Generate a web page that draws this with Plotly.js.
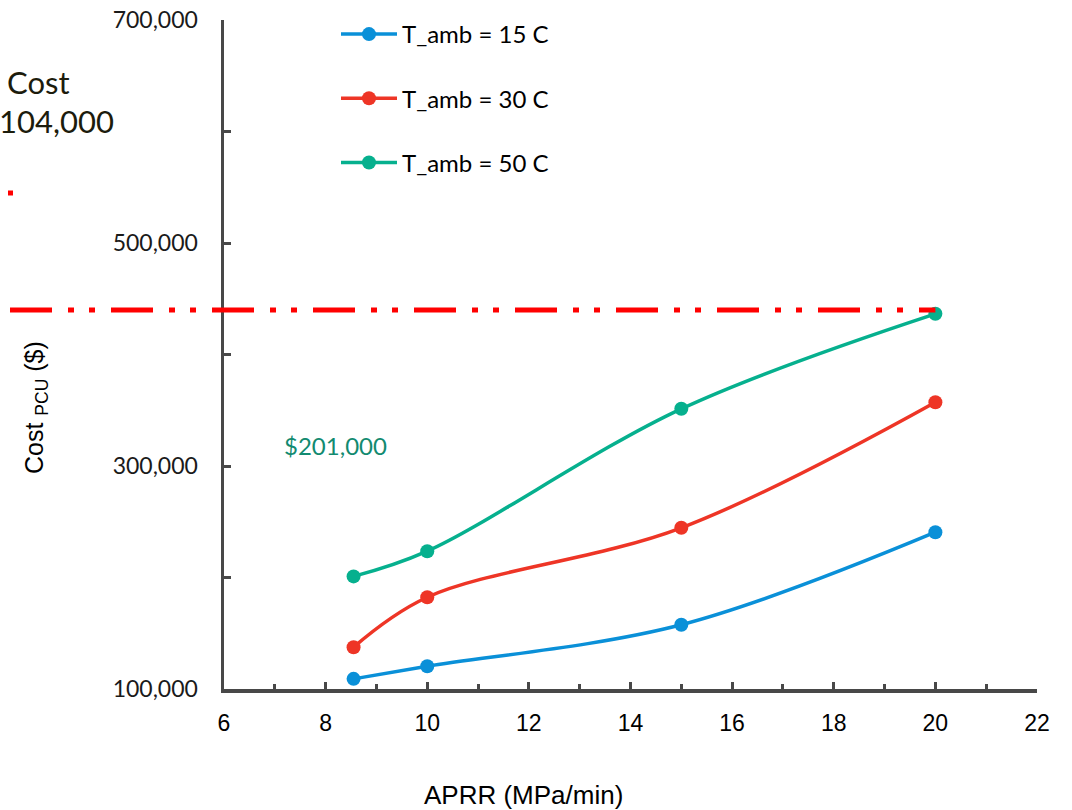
<!DOCTYPE html>
<html>
<head>
<meta charset="utf-8">
<script src="https://cdn.plot.ly/plotly-3.0.1.min.js"></script>
<style>html,body{margin:0;padding:0;background:#fff;}#chart{width:1072px;height:810px;}</style>
</head>
<body>
<div id="chart"></div>
<script>
// ---- data ----
const aprr = [8.55, 10, 15, 20];
const cost15 = [109100, 120400, 157600, 240600];
const cost30 = [137500, 182300, 244600, 357200];
const cost50 = [201000, 223600, 351300, 436500];
const seriesNames = ['T_amb = 15 C', 'T_amb = 30 C', 'T_amb = 50 C'];
const seriesColors = ['#0A90D8', '#EE3526', '#06B08E'];
const thresholdCost = 440000;
const thresholdEndAprr = 20;
const labelValue = '$201,000';
const labelAprr = 8.19;
const labelCost = 318800;
const sideTexts = ['Cost', '104,000'];
const xRange = [6, 22];
const yRange = [100000, 700000];

const W = 1072, H = 810;
const M = {l: 224, r: 35, t: 20, b: 121};
const pw = W - M.l - M.r, ph = H - M.t - M.b;
const px = v => (v - M.l) / pw;        // pixel x -> paper
const py = v => (H - M.b - v) / ph;    // pixel y -> paper

const ys = [cost15, cost30, cost50];
const traces = ys.map((y, i) => ({
  x: aprr, y: y, name: seriesNames[i], type: 'scatter', mode: 'lines+markers',
  legendgroup: 'g' + i,
  line: {color: seriesColors[i], width: 3.5, shape: 'spline', smoothing: 1},
  marker: {color: seriesColors[i], size: 14},
  cliponaxis: false
}));

const axisCol = '#484848';
const layout = {
  width: W, height: H,
  margin: M,
  paper_bgcolor: '#fff', plot_bgcolor: '#fff',
  showlegend: true,
  legend: {
    x: px(336), y: py(12), xanchor: 'left', yanchor: 'top',
    font: {family: 'Lato, sans-serif', size: 24, color: '#000'},
    tracegroupgap: 30, itemwidth: 56, bgcolor: 'rgba(0,0,0,0)'
  },
  xaxis: {
    range: xRange, dtick: 2, tick0: 6,
    showgrid: false, zeroline: false,
    showline: true, linecolor: axisCol, linewidth: 3.5,
    ticks: 'inside', ticklen: 7, tickwidth: 3, tickcolor: axisCol,
    minor: {dtick: 1, ticks: 'inside', ticklen: 5, tickwidth: 3, tickcolor: axisCol, showgrid: false},
    tickfont: {family: 'Liberation Sans, Arial, sans-serif', size: 23, color: '#000'},
    ticklabelstandoff: 11
  },
  yaxis: {
    range: yRange, dtick: 200000, tick0: 100000,
    showgrid: false, zeroline: false,
    showline: true, linecolor: axisCol, linewidth: 3.5,
    ticks: 'inside', ticklen: 7, tickwidth: 3, tickcolor: axisCol,
    minor: {dtick: 100000, ticks: 'inside', ticklen: 7, tickwidth: 3, tickcolor: axisCol, showgrid: false},
    tickformat: ',d',
    tickfont: {family: 'Lato, sans-serif', size: 23, color: '#1a1a1a'},
    ticklabelstandoff: 18
  },
  shapes: [
    {type: 'line', xref: 'paper', yref: 'y',
     x0: px(10), x1: (thresholdEndAprr - xRange[0]) / (xRange[1] - xRange[0]),
     y0: thresholdCost, y1: thresholdCost,
     line: {color: '#FF0000', width: 5, dash: '42px,16px,6px,15px,6px,16px'}, layer: 'above'},
    {type: 'rect', xref: 'paper', yref: 'paper', x0: px(8), x1: px(13), y0: py(195.5), y1: py(190.5),
     line: {width: 0}, fillcolor: '#FF0000'}
  ],
  annotations: [
    {text: 'APRR (MPa/min)', xref: 'paper', yref: 'paper', x: px(523), y: py(795),
     xanchor: 'center', yanchor: 'middle', showarrow: false,
     font: {family: 'Liberation Sans, Arial, sans-serif', size: 26, color: '#000'}},
    {text: 'Cost <sub>PCU</sub> ($)', xref: 'paper', yref: 'paper', x: px(36), y: py(408),
     xanchor: 'center', yanchor: 'middle', textangle: -90, showarrow: false,
     font: {family: 'Liberation Sans, Arial, sans-serif', size: 25, color: '#000'}},
    {text: sideTexts[0], xref: 'paper', yref: 'paper', x: px(5), y: py(82),
     xanchor: 'left', yanchor: 'middle', showarrow: false,
     font: {family: 'Lato, sans-serif', size: 31, color: '#1c1c0c'}},
    {text: sideTexts[1], xref: 'paper', yref: 'paper', x: px(-3), y: py(121),
     xanchor: 'left', yanchor: 'middle', showarrow: false,
     font: {family: 'Lato, sans-serif', size: 31, color: '#1c1c0c'}},
    {text: labelValue, xref: 'x', yref: 'y', x: labelAprr, y: labelCost,
     xanchor: 'center', yanchor: 'middle', showarrow: false,
     font: {family: 'Lato, sans-serif', size: 24, color: '#128A70'}}
  ]
};

Plotly.newPlot('chart', traces, layout, {displayModeBar: false, staticPlot: true});
</script>
</body>
</html>
